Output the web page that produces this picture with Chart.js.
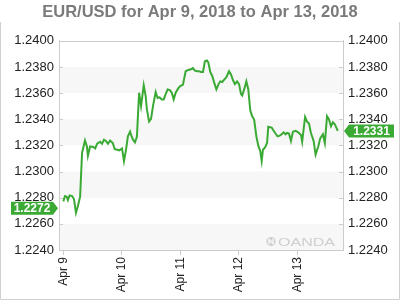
<!DOCTYPE html>
<html>
<head>
<meta charset="utf-8">
<script src="https://cdn.jsdelivr.net/npm/chart.js@4"></script>
<style>
html,body{margin:0;padding:0;background:#fff;}
#wrap{width:400px;height:300px;position:relative;}
</style>
</head>
<body>
<div id="wrap"><canvas id="c" width="400" height="300"></canvas></div>
<script>
// ---- data (hours since Apr 9 00:00, EUR/USD price) ----
const hours = [0,0.7,1.4,1.9,2.6,3.6,4.4,5.2,6.0,6.9,
  7.7,8.9,9.7,10.1,11.0,12.3,13.1,13.9,15.1,15.9,
  16.7,17.5,18.3,19.2,20.3,21.1,22.2,23.0,24.1,24.9,
  25.7,26.5,27.4,27.8,28.6,29.4,30.2,31.1,31.9,33.0,
  33.8,34.3,35.2,36.0,36.8,37.9,38.7,39.5,40.4,41.2,
  42.0,42.8,43.7,44.5,45.3,46.1,47.2,48.0,49.1,50.2,
  51.3,52.4,53.2,54.0,54.9,55.7,56.5,57.3,58.1,58.9,
  59.5,60.3,61.1,61.9,62.8,63.6,64.4,65.2,66.1,66.9,
  68.0,68.8,69.6,70.4,71.3,72.1,72.9,73.4,74.3,75.1,
  75.9,76.7,77.5,78.3,79.2,80.0,80.8,81.4,81.9,82.7,
  83.6,84.1,85.5,86.9,87.9,88.8,89.6,90.4,91.2,91.8,
  92.6,93.4,94.2,95.3,96.4,97.5,98.0,99.2,100.0,100.8,
  101.6,102.7,103.5,104.6,105.4,106.5,107.3,108.2,109.0,109.8,
  110.6,111.4,112.6];
const prices = [1.22772,1.22813,1.22808,1.22782,1.22818,1.22813,1.22788,1.22685,1.22736,1.22808,
  1.23142,1.23238,1.23192,1.23121,1.23192,1.23188,1.23177,1.23213,1.23228,1.23213,
  1.23244,1.23234,1.23213,1.23238,1.23218,1.23172,1.23167,1.23162,1.23177,1.2308,
  1.23162,1.23269,1.23305,1.2328,1.23244,1.23223,1.23265,1.23603,1.235,1.23659,
  1.23577,1.23475,1.23382,1.23403,1.235,1.23608,1.23562,1.23567,1.23552,1.23552,
  1.23592,1.23628,1.23623,1.23603,1.23552,1.23603,1.23638,1.23654,1.23665,1.23767,
  1.23777,1.23782,1.23792,1.23772,1.23767,1.23767,1.23762,1.23762,1.23844,1.23849,
  1.23834,1.23762,1.23731,1.2368,1.23628,1.23665,1.2369,1.23685,1.23705,1.23721,
  1.23767,1.23742,1.237,1.23669,1.2369,1.23669,1.23592,1.23582,1.23634,1.2369,
  1.23628,1.23469,1.23423,1.23398,1.2327,1.23198,1.23157,1.2308,1.23167,1.23182,
  1.23218,1.23342,1.23336,1.23295,1.23269,1.23275,1.23285,1.233,1.23285,1.23295,
  1.2329,1.23234,1.23305,1.23311,1.233,1.2328,1.23228,1.23418,1.23382,1.23367,
  1.23295,1.23234,1.2313,1.23192,1.23254,1.23285,1.23218,1.23423,1.23398,1.23346,
  1.23377,1.23362,1.23311];
const openValue = 1.2272;
const dayLabels = ['Apr 9','Apr 10','Apr 11','Apr 12','Apr 13'];
const dayHours = [0,24,48,72,96];
const yTicks = [1.2240,1.2260,1.2280,1.2300,1.2320,1.2340,1.2360,1.2380,1.2400];
const titleText = 'EUR/USD for Apr 9, 2018 to Apr 13, 2018';

if (hours.length !== prices.length) throw new Error('length mismatch');

const GREEN = '#3aaa35';
const GRID = '#cccccc';
const FONT = '"Liberation Sans", Arial, sans-serif';
const points = hours.map((h,i)=>({x:h,y:prices[i]}));

const decor = {
  id:'decor',
  beforeDraw(chart){
    const ctx = chart.ctx, a = chart.chartArea, ys = chart.scales.y;
    ctx.save();
    // outer frame
    ctx.strokeStyle = '#d0d0d0'; ctx.lineWidth = 1;
    ctx.beginPath();
    ctx.moveTo(0.5,22); ctx.lineTo(0.5,299.5); ctx.lineTo(399.5,299.5); ctx.lineTo(399.5,22);
    ctx.stroke();
    // alternating bands between ticks
    ctx.fillStyle = '#f7f7f7';
    for (let i=0;i+1<yTicks.length;i+=2){
      const y1 = ys.getPixelForValue(yTicks[i]), y2 = ys.getPixelForValue(yTicks[i+1]);
      ctx.fillRect(a.left, Math.min(y1,y2), a.right-a.left, Math.abs(y2-y1));
    }
    // watermark
    ctx.fillStyle = '#cfcfcf';
    const cx = a.right-72, cy = a.bottom-8.5;
    ctx.beginPath(); ctx.arc(cx,cy,4.6,0,Math.PI*2); ctx.fill();
    ctx.strokeStyle='#f7f7f7'; ctx.lineWidth=1.4;
    ctx.beginPath(); ctx.moveTo(cx-2,cy+3); ctx.lineTo(cx-2,cy-2); ctx.lineTo(cx+2,cy+2); ctx.lineTo(cx+2,cy-3); ctx.stroke();
    ctx.fillStyle = '#cfcfcf';
    ctx.font = '11px ' + FONT;
    ctx.textBaseline = 'alphabetic'; ctx.textAlign='left';
    ctx.translate(a.right-65, a.bottom-4);
    const w = ctx.measureText('OANDA').width;
    ctx.scale(57/w,1);
    ctx.fillText('OANDA',0,0);
    ctx.restore();
  },
  afterDraw(chart){
    const ctx = chart.ctx, a = chart.chartArea, ys = chart.scales.y;
    ctx.save();
    ctx.strokeStyle = GRID; ctx.lineWidth = 1;
    ctx.beginPath();
    ctx.moveTo(a.left, Math.round(a.top)+0.5); ctx.lineTo(a.right, Math.round(a.top)+0.5);
    yTicks.forEach(v=>{
      const y = Math.round(ys.getPixelForValue(v))+0.5;
      ctx.moveTo(a.left, y); ctx.lineTo(a.left+4, y);
      ctx.moveTo(a.right-4, y); ctx.lineTo(a.right, y);
    });
    ctx.stroke();
    // value tags
    const tag = (val, side) => {
      const y = ys.getPixelForValue(val);
      const h = 13;
      ctx.fillStyle = GREEN;
      ctx.beginPath();
      let cxText;
      if (side==='left'){
        const tip = a.left-1, bx = tip-5, lx = 11;
        ctx.moveTo(lx,y-h/2); ctx.lineTo(bx,y-h/2); ctx.lineTo(tip,y); ctx.lineTo(bx,y+h/2); ctx.lineTo(lx,y+h/2);
        cxText = (lx+bx)/2;
      } else {
        const tip = a.right+1, bx = tip+5, rx = 394;
        ctx.moveTo(tip,y); ctx.lineTo(bx,y-h/2); ctx.lineTo(rx,y-h/2); ctx.lineTo(rx,y+h/2); ctx.lineTo(bx,y+h/2);
        cxText = (rx+bx)/2;
      }
      ctx.closePath(); ctx.fill();
      ctx.fillStyle='#fff'; ctx.font='bold 12px ' + FONT;
      ctx.textAlign='center'; ctx.textBaseline='middle';
      ctx.fillText(val.toFixed(4),cxText,y+0.5);
    };
    tag(openValue,'left');
    tag(prices[prices.length-1],'right');
    ctx.restore();
  }
};

const yTickOpts = {
  color:'#222',
  font:{family:FONT, size:13},
  padding:5,
  callback:(v)=>Number(v).toFixed(4)
};

new Chart(document.getElementById('c'),{
  type:'line',
  data:{datasets:[{data:points, borderColor:GREEN, borderWidth:2, pointRadius:0, tension:0, fill:false, yAxisID:'y'}]},
  options:{
    responsive:false, animation:false, devicePixelRatio:1,
    layout:{padding:{top:0,left:0,right:0,bottom:0}},
    plugins:{
      legend:{display:false}, tooltip:{enabled:false},
      title:{display:true, text:titleText, color:'#7a7a7a',
        font:{family:FONT, size:16.5, weight:'bold', lineHeight:1.2},
        padding:{top:3,bottom:18}}
    },
    scales:{
      x:{type:'linear', min:-1.76, max:114.75,
        afterBuildTicks:(s)=>{s.ticks = dayHours.map(v=>({value:v}));},
        ticks:{autoSkip:false, maxRotation:90, minRotation:90, padding:2, color:'#222',
          font:{family:FONT, size:12},
          callback:(v)=>{const i=dayHours.indexOf(v); return i>=0?dayLabels[i]:'';}},
        grid:{drawOnChartArea:false, drawTicks:true, tickLength:5, color:GRID},
        border:{display:true, color:GRID},
        afterFit:(s)=>{s.height=50;}
      },
      y:{type:'linear', position:'left', min:1.224, max:1.240,
        afterBuildTicks:(s)=>{s.ticks = yTicks.map(v=>({value:v}));},
        ticks:yTickOpts,
        grid:{display:false, drawTicks:false},
        border:{display:true, color:GRID},
        afterFit:(s)=>{s.width=59;}
      },
      y2:{type:'linear', position:'right', min:1.224, max:1.240,
        afterBuildTicks:(s)=>{s.ticks = yTicks.map(v=>({value:v}));},
        ticks:yTickOpts,
        grid:{display:false, drawTicks:false},
        border:{display:true, color:GRID},
        afterFit:(s)=>{s.width=57;}
      }
    }
  },
  plugins:[decor]
});
</script>
</body>
</html>
